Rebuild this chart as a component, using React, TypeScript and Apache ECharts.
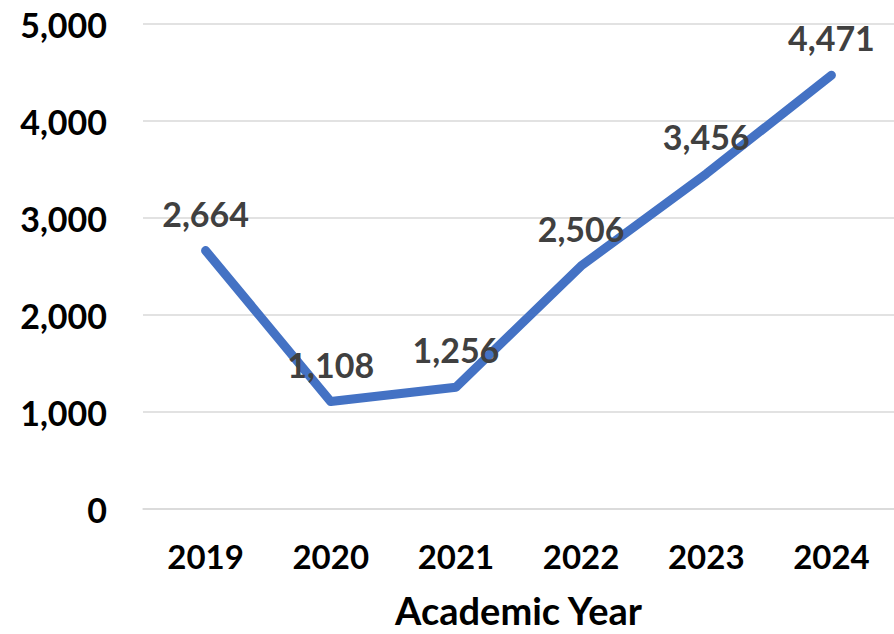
import React, { useEffect, useRef } from "react";
import * as echarts from "echarts";

const years = ["2019", "2020", "2021", "2022", "2023", "2024"];
const students = [2664, 1108, 1256, 2506, 3456, 4471];
const yTicks = { min: 0, max: 5000, interval: 1000 };
const xAxisTitle = "Academic Year";

export default function App() {
  const ref = useRef<HTMLDivElement>(null);
  useEffect(() => {
    if (!ref.current) return;
    const chart = echarts.init(ref.current, null, { renderer: "svg" });
    chart.setOption({
      animation: false,
      backgroundColor: "#ffffff",
      grid: { left: 143, right: -5, top: 24, bottom: 123, containLabel: false },
      xAxis: {
        type: "category",
        data: years,
        boundaryGap: true,
        axisLine: { show: true, lineStyle: { color: "#d9d9d9", width: 1.5 } },
        axisTick: { show: false },
        axisLabel: {
          margin: 30,
          color: "#000000",
          fontFamily: "Lato",
          fontWeight: "bold",
          fontSize: 33,
        },
        name: xAxisTitle,
        nameLocation: "middle",
        nameGap: 82,
        nameTextStyle: {
          color: "#000000",
          fontFamily: "Lato",
          fontWeight: "bold",
          fontSize: 38,
        },
      },
      yAxis: {
        type: "value",
        min: yTicks.min,
        max: yTicks.max,
        interval: yTicks.interval,
        axisLine: { show: false },
        axisTick: { show: false },
        splitLine: { lineStyle: { color: "#d9d9d9", width: 1.5 } },
        axisLabel: {
          margin: 36,
          color: "#000000",
          fontFamily: "Lato",
          fontWeight: "bold",
          fontSize: 34,
          formatter: (v: number) => v.toLocaleString("en-US"),
        },
      },
      series: [
        {
          type: "line",
          data: students,
          symbol: "circle",
          symbolSize: 1,
          showSymbol: true,
          itemStyle: { color: "#4472C4" },
          lineStyle: { color: "#4472C4", width: 9, cap: "round", join: "round" },
          label: {
            show: true,
            position: "top",
            distance: 20,
            color: "#404040",
            fontFamily: "Lato",
            fontWeight: "bold",
            fontSize: 34,
            formatter: (p: any) => Number(p.value).toLocaleString("en-US"),
          },
          z: 2,
        },
      ],
    });
    return () => chart.dispose();
  }, []);
  return (
    <div
      ref={ref}
      style={{ position: "absolute", left: 0, top: 0, width: 894, height: 634 }}
    />
  );
}
